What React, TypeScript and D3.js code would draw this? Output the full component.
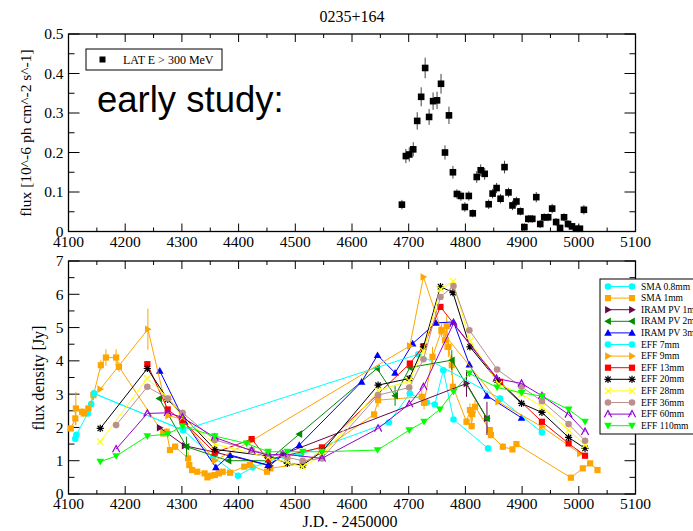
import React from "react";
import * as d3 from "d3";

// ---------- DATA ----------
const X_TICKS = [4100, 4200, 4300, 4400, 4500, 4600, 4700, 4800, 4900, 5000, 5100];
const TOP_Y_TICKS = [0, 0.1, 0.2, 0.3, 0.4, 0.5];
const BOT_Y_TICKS = [0, 1, 2, 3, 4, 5, 6, 7];

const LAT_JD = [4688, 4695, 4701, 4708, 4715, 4722, 4729, 4736, 4743, 4750, 4757, 4764, 4771, 4778, 4785, 4792, 4799, 4806, 4813, 4820, 4827, 4834, 4841, 4848, 4855, 4862, 4869, 4876, 4883, 4890, 4897, 4904, 4911, 4918, 4925, 4932, 4939, 4946, 4953, 4960, 4967, 4974, 4981, 4988, 4995, 5002, 5009];
const LAT_FLUX = [0.068, 0.191, 0.195, 0.208, 0.28, 0.341, 0.414, 0.29, 0.33, 0.332, 0.374, 0.2, 0.294, 0.15, 0.095, 0.09, 0.062, 0.09, 0.046, 0.138, 0.155, 0.146, 0.069, 0.096, 0.11, 0.083, 0.163, 0.099, 0.066, 0.076, 0.051, 0.011, 0.032, 0.032, 0.087, 0.019, 0.036, 0.036, 0.058, 0.024, 0.009, 0.036, 0.019, 0.013, 0.007, 0.007, 0.055];
const LAT_ERR = [0.012, 0.018, 0.018, 0.018, 0.022, 0.024, 0.026, 0.02, 0.022, 0.022, 0.025, 0.018, 0.022, 0.016, 0.012, 0.012, 0.012, 0.012, 0.01, 0.015, 0.015, 0.015, 0.012, 0.012, 0.013, 0.012, 0.016, 0.012, 0.012, 0.012, 0.01, 0.01, 0.01, 0.01, 0.013, 0.01, 0.01, 0.01, 0.012, 0.01, 0.008, 0.01, 0.01, 0.008, 0.006, 0.006, 0.012];

// bottom panel series: [jd, flux density, error]
const SMA_08 = [[4112, 1.66], [4114, 1.78], [4134, 2.42], [4140, 2.7], [4145, 3.02], [4302, 1.92], [4355, 1.12], [4399, 0.55], [4425, 0.8], [4480, 1.15], [4510, 1.2], [4665, 2.15], [4702, 3.02], [4732, 2.75], [4746, 2.69], [4761, 3.72], [4779, 2.24], [4840, 1.37]];
const SMA_1 = [[4104, 1.97, 0], [4112, 2.27, 0.2], [4113, 2.57, 0.5], [4124, 2.47, 0.1], [4127, 2.42, 0.1], [4135, 2.57, 0.1], [4144, 2.97, 0.15], [4157, 3.87, 0.15], [4166, 4.1, 0.25], [4184, 4.1, 0.25], [4189, 3.82, 0.15], [4267, 1.82, 0.1], [4273, 1.87, 0.1], [4279, 1.32, 0], [4288, 1.42, 0.1], [4311, 1.07, 0.2], [4313, 0.87, 0.1], [4318, 0.72, 0.1], [4327, 0.67, 0.05], [4340, 0.62, 0.05], [4345, 0.5, 0.05], [4350, 0.55, 0.05], [4358, 0.57, 0.05], [4365, 0.62, 0.05], [4372, 0.67, 0.05], [4385, 0.64, 0.05], [4410, 0.82, 0.05], [4420, 0.87, 0.05], [4450, 0.67, 0.05], [4456, 0.77, 0.05], [4514, 0.92, 0.05], [4639, 2.39, 0.1], [4646, 2.82, 0.2], [4723, 2.92, 0.2], [4727, 2.74, 0.2], [4742, 4.12, 0.3], [4758, 4.92, 0.2], [4764, 4.62, 0.3], [4767, 5.04, 0.3], [4770, 4.42, 0.3], [4776, 3.87, 0.3], [4778, 3.22, 0.2], [4802, 2.17, 0.1], [4808, 2.52, 0.2], [4811, 2.04, 0.1], [4812, 2.4, 0.2], [4817, 2.62, 0.2], [4843, 1.92, 0.1], [4845, 1.77, 0.1], [4866, 1.42, 0.1], [4883, 1.34, 0.05], [4890, 1.5, 0.05], [4986, 0.49, 0], [5007, 0.77, 0], [5020, 0.92, 0], [5033, 0.72, 0]];
const IRAM_1 = [[4261, 1.99], [4305, 1.45], [4360, 1.25], [4455, 0.85, 0.15], [4479, 1.2], [4802, 3.32, 0.4], [4838, 2.27, 0.5]];
const IRAM_2 = [[4260, 2.87], [4308, 1.42, 0.3], [4382, 1.0], [4452, 1.0], [4507, 1.8], [4644, 3.77], [4676, 2.95, 0.3], [4702, 3.8], [4776, 4.02, 0.3], [4838, 2.27]];
const IRAM_3 = [[4261, 3.7], [4305, 2.17], [4360, 0.8], [4385, 1.17], [4452, 0.87], [4507, 1.47], [4617, 3.37], [4645, 4.17], [4676, 3.64], [4707, 4.52], [4748, 5.14], [4779, 5.17], [4807, 3.89], [4838, 2.95], [4899, 2.29]];
const EFF_7 = [[4145, 3.02], [4302, 1.92], [4717, 4.2], [4861, 2.87], [4935, 1.85]];
const EFF_9 = [[4156, 3.15], [4240, 4.95, 0.62], [4276, 2.35], [4301, 2.25], [4358, 1.0], [4423, 1.6], [4702, 4.45], [4726, 6.52], [4758, 4.9], [4858, 2.77], [4935, 2.02], [5002, 1.22]];
const EFF_13 = [[4239, 3.9], [4275, 2.54], [4301, 2.2], [4358, 1.24], [4423, 1.65], [4452, 1.04], [4547, 1.4], [4702, 3.92], [4726, 4.44], [4756, 5.62], [4861, 3.37], [4935, 2.17], [4982, 1.52], [5011, 1.15]];
const EFF_20 = [[4156, 1.97], [4239, 3.77], [4275, 2.84], [4301, 2.37], [4358, 1.34], [4452, 1.14], [4486, 0.92], [4513, 0.87], [4547, 1.27], [4646, 3.27], [4701, 3.47], [4726, 4.42], [4756, 6.23], [4778, 6.05], [4808, 4.42], [4856, 3.42], [4899, 2.72], [4935, 2.45], [4982, 1.7], [5011, 1.37]];
const EFF_28 = [[4156, 1.57], [4239, 3.47], [4275, 2.9], [4301, 2.3], [4358, 1.5], [4452, 1.1], [4486, 0.95], [4513, 0.82], [4547, 1.15], [4646, 3.1], [4701, 3.4], [4726, 4.3], [4756, 6.15], [4778, 6.39], [4808, 4.6], [4859, 3.3], [4899, 3.0], [4935, 2.62], [4982, 1.92], [5011, 1.47]];
const EFF_36 = [[4184, 2.07], [4239, 3.22], [4275, 2.87], [4301, 2.44], [4358, 1.62], [4423, 1.32], [4452, 1.2], [4486, 1.1], [4513, 1.0], [4547, 1.07], [4646, 2.97], [4701, 3.2], [4726, 4.05], [4756, 5.92], [4779, 6.25], [4807, 4.92], [4856, 3.74], [4899, 3.22], [4935, 2.79], [4982, 2.1], [5011, 1.6]];
const EFF_60 = [[4184, 1.35], [4239, 2.42], [4275, 2.44], [4301, 2.3], [4358, 1.7], [4423, 1.3], [4452, 1.17], [4478, 1.2], [4547, 1.07], [4646, 1.97], [4701, 2.7], [4726, 3.22], [4779, 5.12], [4855, 3.47], [4899, 3.32], [4935, 2.95], [4982, 2.39], [5011, 1.87]];
const EFF_110 = [[4156, 0.97], [4184, 1.14], [4239, 1.74], [4275, 1.8], [4301, 2.04], [4358, 1.74], [4414, 1.52], [4452, 1.27], [4486, 1.27], [4513, 1.27], [4547, 1.27], [4645, 1.32], [4701, 1.92], [4727, 2.17], [4755, 2.54], [4779, 3.07], [4807, 3.62], [4856, 3.2], [4899, 3.04], [4935, 2.94], [4982, 2.54], [5011, 2.17]];

const SERIES_NAMES = ["SMA 0.8mm", "SMA 1mm", "IRAM PV 1mm", "IRAM PV 2mm", "IRAM PV 3mm", "EFF 7mm", "EFF 9mm", "EFF 13mm", "EFF 20mm", "EFF 28mm", "EFF 36mm", "EFF 60mm", "EFF 110mm"];
const SERIES_DATA = [SMA_08, SMA_1, IRAM_1, IRAM_2, IRAM_3, EFF_7, EFF_9, EFF_13, EFF_20, EFF_28, EFF_36, EFF_60, EFF_110];
const SERIES_COLORS = ["#00ffff", "#ffa500", "#67074a", "#008b00", "#0000ff", "#00ffff", "#ffa500", "#ff0000", "#000000", "#ffff00", "#bc8f8f", "#9400d3", "#00ff00"];
const SERIES_MARKERS = ["circle", "square", "triRight", "triLeft", "triUp", "circle", "triRight", "square", "star", "cross", "circle", "caret", "triDown"];

// ---------- SCALES ----------
const X = d3.scaleLinear().domain([4100, 5100]).range([68.5, 635.5]);
const YT = d3.scaleLinear().domain([0, 0.5]).range([231.5, 34]);
const YB = d3.scaleLinear().domain([0, 7]).range([494, 261]);

const SERIF = "'Liberation Serif', 'Times New Roman', serif";

function Marker({ type, x, y, color }: { type: string; x: number; y: number; color: string }) {
  const s = 3.1;
  const t = 3.8;
  const u = 2.9;
  switch (type) {
    case "circle":
      return <circle cx={x} cy={y} r={3.3} fill={color} />;
    case "square":
      return <rect x={x - s} y={y - s} width={2 * s} height={2 * s} fill={color} />;
    case "triUp":
      return <path d={`M${x},${y - t}L${x + t},${y + u}L${x - t},${y + u}Z`} fill={color} />;
    case "triDown":
      return <path d={`M${x},${y + t}L${x + t},${y - u}L${x - t},${y - u}Z`} fill={color} />;
    case "triRight":
      return <path d={`M${x + t},${y}L${x - u},${y - t}L${x - u},${y + t}Z`} fill={color} />;
    case "triLeft":
      return <path d={`M${x - t},${y}L${x + u},${y - t}L${x + u},${y + t}Z`} fill={color} />;
    case "star":
      return (
        <path
          d={`M${x - 3.6},${y}L${x + 3.6},${y}M${x},${y - 3.6}L${x},${y + 3.6}M${x - 2.7},${y - 2.7}L${x + 2.7},${y + 2.7}M${x - 2.7},${y + 2.7}L${x + 2.7},${y - 2.7}`}
          stroke={color}
          strokeWidth={1.2}
          fill="none"
        />
      );
    case "cross":
      return <path d={`M${x - 3.2},${y - 3.2}L${x + 3.2},${y + 3.2}M${x - 3.2},${y + 3.2}L${x + 3.2},${y - 3.2}`} stroke={color} strokeWidth={1.2} fill="none" />;
    case "caret":
      return <path d={`M${x - 3.6},${y + 3.2}L${x},${y - 3.6}L${x + 3.6},${y + 3.2}`} stroke={color} strokeWidth={1.2} fill="none" />;
    default:
      return null;
  }
}

function Frame({ y: ys, yTicks, yMinor, fmt }: { y: any; yTicks: number[]; yMinor: number[]; fmt: (v: number) => string }) {
  const [x0, x1] = X.range();
  const [yb, yt] = ys.range();
  const xMinor = d3.range(4150, 5100, 100);
  return (
    <g>
      <rect x={x0} y={yt} width={x1 - x0} height={yb - yt} fill="none" stroke="#000" strokeWidth={1.3} />
      {X_TICKS.map((t) => (
        <g key={"xt" + t}>
          <line x1={X(t)} x2={X(t)} y1={yb} y2={yb - 8} stroke="#000" />
          <line x1={X(t)} x2={X(t)} y1={yt} y2={yt + 8} stroke="#000" />
        </g>
      ))}
      {xMinor.map((t) => (
        <g key={"xm" + t}>
          <line x1={X(t)} x2={X(t)} y1={yb} y2={yb - 4} stroke="#000" />
          <line x1={X(t)} x2={X(t)} y1={yt} y2={yt + 4} stroke="#000" />
        </g>
      ))}
      {yTicks.map((t) => (
        <g key={"yt" + t}>
          <line x1={x0} x2={x0 + 11} y1={ys(t)} y2={ys(t)} stroke="#000" />
          <line x1={x1} x2={x1 - 11} y1={ys(t)} y2={ys(t)} stroke="#000" />
          <text x={x0 - 5} y={ys(t)} dy="0.35em" textAnchor="end" fontFamily={SERIF} fontSize={15.5} fill="#000">
            {fmt(t)}
          </text>
        </g>
      ))}
      {yMinor.map((t) => (
        <g key={"ym" + t}>
          <line x1={x0} x2={x0 + 6} y1={ys(t)} y2={ys(t)} stroke="#000" />
          <line x1={x1} x2={x1 - 6} y1={ys(t)} y2={ys(t)} stroke="#000" />
        </g>
      ))}
      {X_TICKS.map((t) => (
        <text key={"xl" + t} x={X(t)} y={yb + 15} textAnchor="middle" fontFamily={SERIF} fontSize={15.5} fill="#000">
          {t}
        </text>
      ))}
    </g>
  );
}

export default function App() {
  const line = d3
    .line<number[]>()
    .x((d) => X(d[0]))
    .y((d) => YB(d[1]));

  const legendX = 600;
  const legendY = 279;
  const rowH = 11.6;

  return (
    <svg width={693} height={531} style={{ position: "absolute", left: 0, top: 0, background: "#fff" }}>
      <rect x={0} y={0} width={693} height={531} fill="#fff" />
      <text x={352} y={22} textAnchor="middle" fontFamily={SERIF} fontSize={16}>
        0235+164
      </text>

      {/* top panel */}
      <Frame y={YT} yTicks={TOP_Y_TICKS} yMinor={[0.05, 0.15, 0.25, 0.35, 0.45]} fmt={(v) => (v === 0 ? "0" : d3.format(".1f")(v))} />
      <text transform={`translate(31,133) rotate(-90)`} textAnchor="middle" fontFamily={SERIF} fontSize={15.5}>
        flux [10^-6 ph cm^-2 s^-1]
      </text>
      <rect x={86} y={49} width={136} height={21} fill="#fff" stroke="#000" strokeWidth={1} />
      <rect x={99.5} y={56.5} width={6} height={6} fill="#000" />
      <text x={123} y={64} fontFamily={SERIF} fontSize={12}>
        LAT E &gt; 300 MeV
      </text>
      <text x={97} y={112} fontFamily="'Liberation Sans', Arial, sans-serif" fontSize={36.5} fill="#000">
        early study:
      </text>
      {LAT_JD.map((jd, i) => (
        <g key={"lat" + i}>
          <line x1={X(jd)} x2={X(jd)} y1={YT(LAT_FLUX[i] - LAT_ERR[i])} y2={YT(LAT_FLUX[i] + LAT_ERR[i])} stroke="#444" strokeWidth={1} />
          <rect x={X(jd) - 3.3} y={YT(LAT_FLUX[i]) - 3.3} width={6.6} height={6.6} fill="#000" />
        </g>
      ))}

      {/* bottom panel */}
      <Frame y={YB} yTicks={BOT_Y_TICKS} yMinor={[0.5, 1.5, 2.5, 3.5, 4.5, 5.5, 6.5]} fmt={(v) => String(v)} />
      <text transform={`translate(44,378) rotate(-90)`} textAnchor="middle" fontFamily={SERIF} fontSize={16}>
        flux density [Jy]
      </text>
      <text x={350} y={527} textAnchor="middle" fontFamily={SERIF} fontSize={16}>
        J.D. - 2450000
      </text>
      <g>
        {SERIES_DATA.map((data, si) => (
          <g key={"s" + si}>
            <path d={line(data as number[][]) || ""} fill="none" stroke={SERIES_COLORS[si]} strokeWidth={1} />
            {(data as number[][]).map((d, i) =>
              d[2] ? (
                <line key={"e" + i} x1={X(d[0])} x2={X(d[0])} y1={YB(d[1] - d[2])} y2={YB(d[1] + d[2])} stroke={SERIES_COLORS[si]} strokeWidth={1} />
              ) : null
            )}
            {(data as number[][]).map((d, i) => (
              <Marker key={"m" + i} type={SERIES_MARKERS[si]} x={X(d[0])} y={YB(d[1])} color={SERIES_COLORS[si]} />
            ))}
          </g>
        ))}
      </g>

      {/* legend */}
      <rect x={legendX} y={legendY} width={100} height={155} fill="#fff" stroke="#000" strokeWidth={1} />
      {SERIES_NAMES.map((name, i) => {
        const y = legendY + 7.5 + i * rowH;
        return (
          <g key={"lg" + i}>
            <line x1={608} x2={632} y1={y} y2={y} stroke={SERIES_COLORS[i]} strokeWidth={1} />
            <Marker type={SERIES_MARKERS[i]} x={608} y={y} color={SERIES_COLORS[i]} />
            <Marker type={SERIES_MARKERS[i]} x={632} y={y} color={SERIES_COLORS[i]} />
            <text x={641} y={y} dy="0.33em" fontFamily={SERIF} fontSize={9.5}>
              {name}
            </text>
          </g>
        );
      })}
    </svg>
  );
}
